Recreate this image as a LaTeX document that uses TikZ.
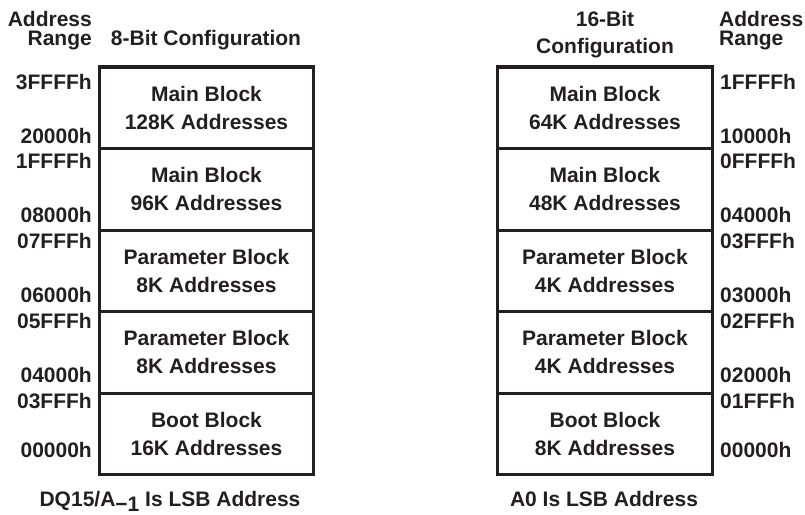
\documentclass[tikz,border=0pt]{standalone}
\usepackage{fontspec}
\setmainfont{Liberation Sans}
\definecolor{ink}{RGB}{35,31,32}
\begin{document}
\begin{tikzpicture}[x=1pt,y=-1pt,
  txt/.style={font=\bfseries\fontsize{21}{28}\selectfont, text=ink, inner sep=0pt},
  blk/.style={txt, draw=ink, line width=1.5pt, minimum height=80pt, align=center},
  lblk/.style={blk, minimum width=213pt},
  rblk/.style={blk, minimum width=214pt},
  lab/.style={txt},
  frame/.style={draw=ink, line width=3.2pt}]
\useasboundingbox (0,0) rectangle (805,514);

% left column blocks
\node[lblk, anchor=north] (L1) at (206.5,67) {Main Block\\128K Addresses};
\node[lblk, anchor=north] (L2) at (L1.south) {Main Block\\96K Addresses};
\node[lblk, anchor=north] (L3) at (L2.south) {Parameter Block\\8K Addresses};
\node[lblk, anchor=north] (L4) at (L3.south) {Parameter Block\\8K Addresses};
\node[lblk, anchor=north] (L5) at (L4.south) {Boot Block\\16K Addresses};
\draw[frame] (L1.north west) rectangle (L5.south east);

% right column blocks
\node[rblk, anchor=north] (R1) at (605,67) {Main Block\\64K Addresses};
\node[rblk, anchor=north] (R2) at (R1.south) {Main Block\\48K Addresses};
\node[rblk, anchor=north] (R3) at (R2.south) {Parameter Block\\4K Addresses};
\node[rblk, anchor=north] (R4) at (R3.south) {Parameter Block\\4K Addresses};
\node[rblk, anchor=north] (R5) at (R4.south) {Boot Block\\8K Addresses};
\draw[frame] (R1.north west) rectangle (R5.south east);

% headers
\node[lab, anchor=base east] (hla) at (92,26.5) {Address};
\node[lab, anchor=base east] (hlr) at (92,45.5) {Range};
\node[lab, anchor=base] (hlc) at (206,45) {8-Bit Configuration};
\node[lab, anchor=base] (hrb) at (605,27) {16-Bit};
\node[lab, anchor=base] (hrc) at (605,53) {Configuration};
\node[lab, anchor=base west] (hra) at (719,26.5) {Address};
\node[lab, anchor=base west] (hrr) at (719,45.5) {Range};

% left address labels
\node[lab, anchor=base east] (a1) at (92,89) {3FFFFh};
\node[lab, anchor=base east] (a2) at (92,143) {20000h};
\node[lab, anchor=base east] (a3) at (92,168) {1FFFFh};
\node[lab, anchor=base east] (a4) at (92,222) {08000h};
\node[lab, anchor=base east] (a5) at (92,248) {07FFFh};
\node[lab, anchor=base east] (a6) at (92,302) {06000h};
\node[lab, anchor=base east] (a7) at (92,328) {05FFFh};
\node[lab, anchor=base east] (a8) at (92,382.5) {04000h};
\node[lab, anchor=base east] (a9) at (92,408) {03FFFh};
\node[lab, anchor=base east] (a10) at (92,457) {00000h};

% right address labels
\node[lab, anchor=base west] (b1) at (720,89) {1FFFFh};
\node[lab, anchor=base west] (b2) at (720,143) {10000h};
\node[lab, anchor=base west] (b3) at (720,168) {0FFFFh};
\node[lab, anchor=base west] (b4) at (720,222) {04000h};
\node[lab, anchor=base west] (b5) at (720,248) {03FFFh};
\node[lab, anchor=base west] (b6) at (720,302) {03000h};
\node[lab, anchor=base west] (b7) at (720,328) {02FFFh};
\node[lab, anchor=base west] (b8) at (720,382.5) {02000h};
\node[lab, anchor=base west] (b9) at (720,408) {01FFFh};
\node[lab, anchor=base west] (b10) at (720,457) {00000h};

% footers
\node[lab, anchor=base] (fl) at (170,506) {DQ15/A\raisebox{-5pt}{−1} Is LSB Address};
\node[lab, anchor=base] (fr) at (604,506) {A0 Is LSB Address};
\end{tikzpicture}
\end{document}
